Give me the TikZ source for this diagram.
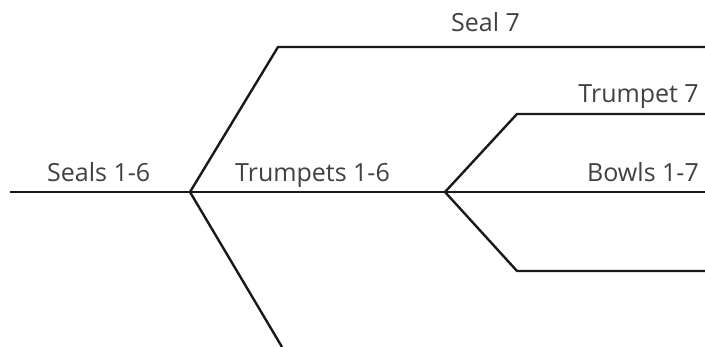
\documentclass[tikz,border=0pt]{standalone}
\usepackage{fontspec}
\setmainfont{Open Sans}
\begin{document}
\begin{tikzpicture}[x=1pt,y=1pt,
  branch/.style={line width=2.4pt,draw=black!90,line join=miter},
  lbl/.style={inner sep=0pt,text=black!75,font=\fontsize{25}{29}\selectfont}]
\useasboundingbox (0,0) rectangle (705,347);
\begin{scope}
\clip (0,0) rectangle (705,347);
\coordinate (s) at (10,155);
\coordinate (j1) at (190,155);
\coordinate (t1) at (278,300);
\coordinate (t1e) at (705,300);
\coordinate (b1) at (282,0);
\coordinate (j2) at (445,155);
\coordinate (me) at (705,155);
\coordinate (t2) at (517,233);
\coordinate (t2e) at (705,233);
\coordinate (b2) at (517,76);
\coordinate (b2e) at (705,76);
\draw[branch] (s) -- (j1) -- (j2) -- (me);
\draw[branch] (t1e) -- (t1) -- (j1) -- (b1);
\draw[branch] (t2e) -- (t2) -- (j2) -- (b2) -- (b2e);
\end{scope}
\node[lbl,anchor=base west] (l1) at (47,165) {Seals 1-6};
\node[lbl,anchor=base west] (l2) at (235,165) {Trumpets 1-6};
\node[lbl,anchor=base west] (l3) at (451,315) {Seal 7};
\node[lbl,anchor=base east] (l4) at (699,244) {Trumpet 7};
\node[lbl,anchor=base east] (l5) at (699,165) {Bowls 1-7};
\end{tikzpicture}
\end{document}
